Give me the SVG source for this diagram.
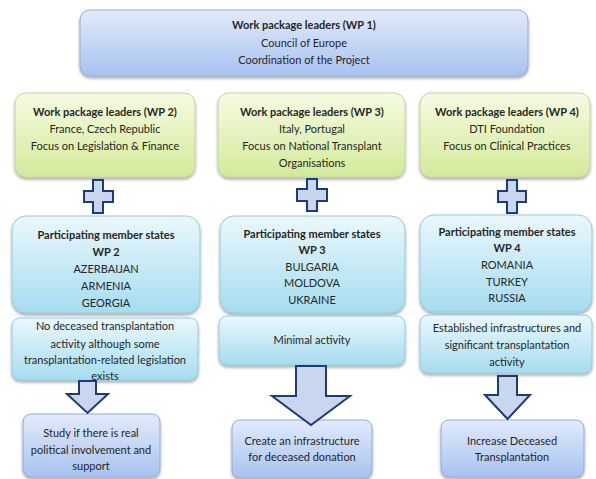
<svg xmlns="http://www.w3.org/2000/svg" width="596" height="479" viewBox="0 0 596 479">
  <defs>
    <linearGradient id="gBlue" x1="0" y1="0" x2="0" y2="1">
      <stop offset="0" stop-color="#e2ebfb"/>
      <stop offset="1" stop-color="#a7c2f0"/>
    </linearGradient>
    <linearGradient id="gGreen" x1="0" y1="0" x2="0" y2="1">
      <stop offset="0" stop-color="#f6fbe3"/>
      <stop offset="1" stop-color="#d3ea98"/>
    </linearGradient>
    <linearGradient id="gCyan" x1="0" y1="0" x2="0" y2="1">
      <stop offset="0" stop-color="#eaf8fd"/>
      <stop offset="1" stop-color="#a5dcef"/>
    </linearGradient>
    <filter id="shadow" x="-10%" y="-10%" width="120%" height="130%">
      <feDropShadow dx="0" dy="2" stdDeviation="1.5" flood-color="#000" flood-opacity="0.35"/>
    </filter>
    <style>
      .box { stroke-width: 1; filter: url(#shadow); }
      .blue { fill: url(#gBlue); stroke: #93acd6; }
      .green { fill: url(#gGreen); stroke: #c3d69c; }
      .cyan { fill: url(#gCyan); stroke: #93cbe0; }
      .sym { fill: #c8d6ee; stroke: #1f3a78; stroke-width: 2; stroke-linejoin: miter; }
      text { font-family: Lato, "Liberation Sans", sans-serif; font-size: 11px; fill: #262626; text-anchor: middle; }
      .b { font-weight: bold; }
    </style>
  </defs>

  <!-- Coordinator -->
  <g id="wp1">
    <rect class="box blue" x="80" y="10" width="448" height="66" rx="10"/>
    <text class="b" x="304" y="29">Work package leaders (WP 1)</text>
    <text x="304" y="47">Council of Europe</text>
    <text x="304" y="64">Coordination of the Project</text>
  </g>

  <!-- Work package leaders -->
  <g id="wp2-leaders">
    <rect class="box green" x="15" y="93" width="180" height="84" rx="11"/>
    <text class="b" x="105" y="116">Work package leaders (WP 2)</text>
    <text x="105" y="133">France, Czech Republic</text>
    <text x="105" y="150">Focus on Legislation &amp; Finance</text>
  </g>
  <g id="wp3-leaders">
    <rect class="box green" x="218" y="93" width="187" height="84" rx="11"/>
    <text class="b" x="312" y="116">Work package leaders (WP 3)</text>
    <text x="312" y="133">Italy, Portugal</text>
    <text x="312" y="150">Focus on National Transplant</text>
    <text x="312" y="167">Organisations</text>
  </g>
  <g id="wp4-leaders">
    <rect class="box green" x="420" y="93" width="170" height="84" rx="11"/>
    <text class="b" x="507" y="116">Work package leaders (WP 4)</text>
    <text x="507" y="133">DTI Foundation</text>
    <text x="507" y="150">Focus on Clinical Practices</text>
  </g>

  <!-- Participating member states -->
  <g id="wp2-states">
    <rect class="box cyan" x="12" y="216" width="188" height="97" rx="14"/>
    <text class="b" x="106" y="239">Participating member states</text>
    <text class="b" x="106" y="256">WP 2</text>
    <text x="106" y="273">AZERBAIJAN</text>
    <text x="106" y="290">ARMENIA</text>
    <text x="106" y="307">GEORGIA</text>
  </g>
  <g id="wp3-states">
    <rect class="box cyan" x="220" y="216" width="185" height="97" rx="14"/>
    <text class="b" x="312" y="238">Participating member states</text>
    <text class="b" x="312" y="254">WP 3</text>
    <text x="312" y="271">BULGARIA</text>
    <text x="312" y="287">MOLDOVA</text>
    <text x="312" y="304">UKRAINE</text>
  </g>
  <g id="wp4-states">
    <rect class="box cyan" x="420" y="215" width="172" height="97" rx="14"/>
    <text class="b" x="507" y="236">Participating member states</text>
    <text class="b" x="507" y="252">WP 4</text>
    <text x="507" y="269">ROMANIA</text>
    <text x="507" y="286">TURKEY</text>
    <text x="507" y="302">RUSSIA</text>
  </g>

  <!-- Current activity -->
  <g id="wp2-activity">
    <rect class="box cyan" x="12" y="318" width="186" height="62" rx="8"/>
    <text x="105" y="330">No deceased transplantation</text>
    <text x="105" y="348">activity although some</text>
    <text x="105" y="364">transplantation-related legislation</text>
    <text x="105" y="380">exists</text>
  </g>
  <g id="wp3-activity">
    <rect class="box cyan" x="219" y="316" width="186" height="49" rx="8"/>
    <text x="312" y="344">Minimal activity</text>
  </g>
  <g id="wp4-activity">
    <rect class="box cyan" x="420" y="315" width="172" height="58" rx="8"/>
    <text x="507" y="332">Established infrastructures and</text>
    <text x="507" y="349">significant transplantation</text>
    <text x="507" y="366">activity</text>
  </g>

  <!-- Goals -->
  <g id="wp2-goal">
    <rect class="box blue" x="23" y="414" width="137" height="63" rx="8"/>
    <text x="91" y="437">Study if there is real</text>
    <text x="91" y="454">political involvement and</text>
    <text x="91" y="470">support</text>
  </g>
  <g id="wp3-goal">
    <rect class="box blue" x="232" y="420" width="140" height="58" rx="8"/>
    <text x="302" y="445">Create an infrastructure</text>
    <text x="302" y="461">for deceased donation</text>
  </g>
  <g id="wp4-goal">
    <rect class="box blue" x="441" y="420" width="143" height="57" rx="8"/>
    <text x="512" y="445">Increase Deceased</text>
    <text x="512" y="461">Transplantation</text>
  </g>

  <!-- Connectors: plus signs and block arrows -->
  <g id="connectors">
    <path class="sym" d="M93,180 H103 V191 H113 V202 H103 V213 H93 V202 H84 V191 H93 Z"/>
    <path class="sym" d="M307,179 H317 V189 H327 V201 H317 V211 H307 V201 H297 V189 H307 Z"/>
    <path class="sym" d="M507,180 H517 V191 H526 V202 H517 V213 H507 V202 H498 V191 H507 Z"/>
    <path class="sym" d="M79,381 H96 V394 H108 L87.5,413 L67,394 H79 Z"/>
    <path class="sym" d="M296,366 H326 V396 H350 L311,425 L272,396 H296 Z"/>
    <path class="sym" d="M498,376 H517 V395 H530 L507.5,419 L485,395 H498 Z"/>
  </g>
</svg>
